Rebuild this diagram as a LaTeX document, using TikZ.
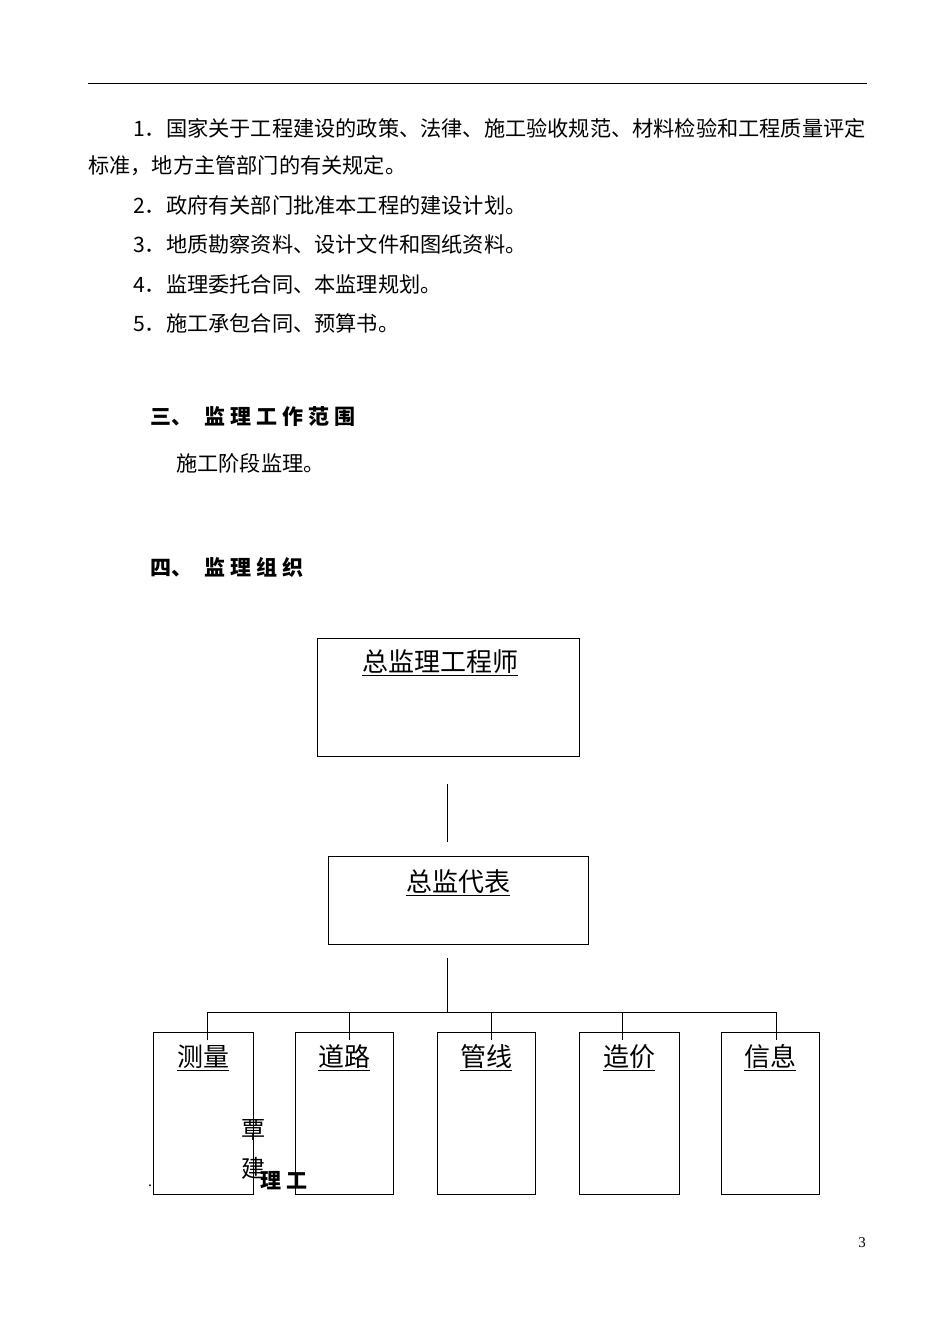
\documentclass[tikz,border=0pt]{standalone}
\usepackage{fontspec}
\setmainfont{Liberation Serif}
\newfontfamily\cjk{Noto Sans CJK SC}
\begin{document}
\begin{tikzpicture}[x=1pt,y=-1pt,
 body/.style={anchor=west,inner sep=0,font=\cjk\fontsize{21.2}{24}\selectfont},
 head/.style={anchor=west,inner sep=0,font=\cjk\bfseries\fontsize{21}{24}\selectfont},
 box/.style={draw,line width=1pt},
 lab/.style={inner sep=0,font=\cjk\fontsize{26}{28}\selectfont},
 ln/.style={line width=0.8pt}]
\useasboundingbox (0,0) rectangle (950,1342);
\draw[line width=1pt] (88,83) -- (867,83);
\node[body] (l1) at (133,128) {1．国家关于工程建设的政策、法律、施工验收规范、材料检验和工程质量评定};
\node[body] (l1b) at (88,166) {标准，地方主管部门的有关规定。};
\node[body] (l2) at (133,205) {2．政府有关部门批准本工程的建设计划。};
\node[body] (l3) at (133,244) {3．地质勘察资料、设计文件和图纸资料。};
\node[body] (l4) at (133,284) {4．监理委托合同、本监理规划。};
\node[body] (l5) at (133,323) {5．施工承包合同、预算书。};
\node[head] (h3) at (150,417) {三、\hspace{12pt}监\hspace{5pt}理\hspace{5pt}工\hspace{5pt}作\hspace{5pt}范\hspace{5pt}围};
\node[body] (s3) at (176,463) {施工阶段监理。};
\node[head] (h4) at (150,567) {四、\hspace{12pt}监\hspace{5pt}理\hspace{5pt}组\hspace{5pt}织};
\draw[box] (317,638) rectangle (579,756);
\node[lab] (a) at (440,663) {\underline{总监理工程师}};
\draw[ln] (447,784) coordinate (c1) -- (447,842) coordinate (c2);
\draw[box] (328,856) rectangle (588,944);
\node[lab] (b) at (458,883) {\underline{总监代表}};
\draw[ln] (447,958) coordinate (c3) -- (447,1012) coordinate (c4);
\draw[ln] (207,1012) coordinate (bl) -- (776,1012) coordinate (br);
\foreach \xa/\xb/\xd/\t [count=\i] in {153/253/207/测量,295/393/349/道路,437/535/491/管线,579/679/622/造价,721/819/776/信息}{
 \draw[box] (\xa,1032) rectangle (\xb,1194);
 \draw[ln] (\xd,1012) coordinate (d\i) -- (\xd,1040);
 \node[lab] (n\i) at ({(\xa+\xb)/2},1058) {\underline{\t}};
}
\node[inner sep=0,font=\cjk\fontsize{24}{26}\selectfont] (g1) at (253,1130) {覃};
\node[inner sep=0,font=\cjk\fontsize{24}{26}\selectfont] (g2) at (253,1168) {建};
\node[inner sep=0,anchor=west,font=\cjk\bfseries\fontsize{21}{24}\selectfont] (g3) at (260,1181) {理\hspace{5pt}工};
\node[inner sep=0,font=\fontsize{16}{18}\selectfont] (g4) at (150,1186) {.};
\node[inner sep=0,font=\fontsize{15}{18}\selectfont] (pg) at (862,1243) {3};
\end{tikzpicture}
\end{document}
